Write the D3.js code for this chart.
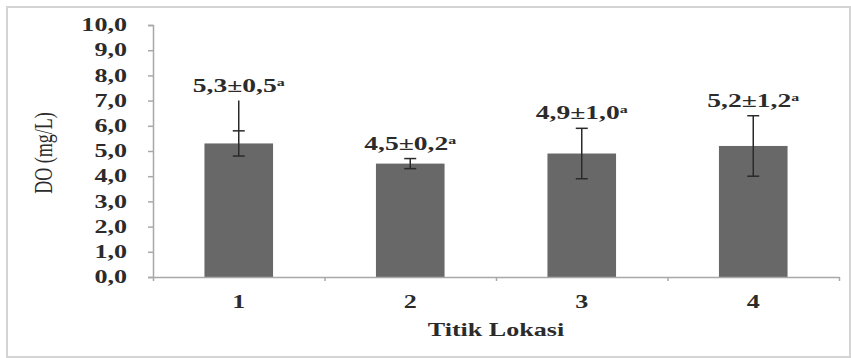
<!DOCTYPE html>
<html>
<head>
<meta charset="utf-8">
<script src="https://cdn.jsdelivr.net/npm/d3@7"></script>
<style>
  body { margin: 0; background: #fff; }
  svg text { font-family: 'Liberation Serif', 'Times New Roman', serif; fill: #2b2b2b; }
</style>
</head>
<body>
<div id="chart"></div>
<script>
// data
const locations = ['1', '2', '3', '4'];
const doMeans = [5.3, 4.5, 4.9, 5.2];
const doSd = [0.5, 0.2, 1.0, 1.2];
// bar 1 has a whisker that runs on above its cap, up to 7,0
const whiskerTop = [7.0, null, null, null];
const labelSuffix = ['a', 'a', 'a', 'a'];
const yTicks = [0, 1, 2, 3, 4, 5, 6, 7, 8, 9, 10];

const W = 851, H = 358;
const margin = { top: 25, right: 12, bottom: 81, left: 153 };
const plotW = W - margin.left - margin.right;
const plotH = H - margin.top - margin.bottom;
const stretch = 1.45; // text in the picture is squashed wide

const comma = (v) => d3.format('.1f')(v).replace('.', ',');

const svg = d3.select('#chart')
  .append('svg')
  .attr('width', W)
  .attr('height', H);

// chart frame
svg.append('rect')
  .attr('x', 7).attr('y', 7)
  .attr('width', W - 8).attr('height', H - 8)
  .attr('fill', 'none')
  .attr('stroke', '#d4d4d4')
  .attr('stroke-width', 2);

const g = svg.append('g')
  .attr('transform', `translate(${margin.left},${margin.top})`);

const x = d3.scaleBand()
  .domain(locations)
  .range([0, plotW])
  .paddingInner(0.6)
  .paddingOuter(0.3);

const y = d3.scaleLinear()
  .domain([0, 10])
  .range([plotH, 0]);

// y axis
const yAxis = g.append('g')
  .call(d3.axisLeft(y).tickValues(yTicks).tickFormat(comma).tickSize(5));
yAxis.select('.domain').attr('stroke', '#a8a8a8').attr('stroke-width', 1.5);
yAxis.selectAll('.tick line').attr('stroke', '#a8a8a8').attr('stroke-width', 1.5);
yAxis.selectAll('.tick text')
  .attr('x', 0)
  .attr('transform', `translate(-26,0) scale(${stretch},1)`)
  .style('font-size', '18px')
  .style('font-weight', 'bold')
  .attr('fill', '#333');

// bars
g.selectAll('.bar')
  .data(locations)
  .join('rect')
  .attr('class', 'bar')
  .attr('x', (d) => x(d))
  .attr('y', (d, i) => y(doMeans[i]))
  .attr('width', x.bandwidth())
  .attr('height', (d, i) => plotH - y(doMeans[i]))
  .attr('fill', '#686868');

// x axis: line and ticks on category borders
const xEdge = d3.scaleLinear().domain([0, locations.length]).range([0, plotW]);
const xAxis = g.append('g')
  .attr('transform', `translate(0,${plotH})`)
  .call(d3.axisBottom(xEdge).tickValues(d3.range(locations.length + 1)).tickFormat('').tickSize(4).tickSizeOuter(0));
xAxis.select('.domain').attr('stroke', '#a8a8a8').attr('stroke-width', 1.5);
xAxis.selectAll('.tick line').attr('stroke', '#a8a8a8').attr('stroke-width', 1.5);

// category labels
const xLabels = g.append('g')
  .attr('transform', `translate(0,${plotH})`)
  .call(d3.axisBottom(x).tickSize(0).tickPadding(0));
xLabels.select('.domain').remove();
xLabels.selectAll('.tick text')
  .attr('y', 0).attr('dy', 0)
  .attr('transform', `translate(0,31) scale(${stretch},1)`)
  .style('font-size', '18px')
  .style('font-weight', 'bold')
  .attr('fill', '#333');

// error bars
const cap = 6;
locations.forEach((d, i) => {
  const cx = x(d) + x.bandwidth() / 2;
  const lo = doMeans[i] - doSd[i];
  const hi = doMeans[i] + doSd[i];
  const top = whiskerTop[i] != null ? whiskerTop[i] : hi;
  const eb = g.append('g').attr('stroke', '#2a2a2a').attr('stroke-width', 1.5);
  eb.append('line').attr('x1', cx).attr('x2', cx).attr('y1', y(lo)).attr('y2', y(top));
  eb.append('line').attr('x1', cx - cap).attr('x2', cx + cap).attr('y1', y(hi)).attr('y2', y(hi));
  eb.append('line').attr('x1', cx - cap).attr('x2', cx + cap).attr('y1', y(lo)).attr('y2', y(lo));

  // value label above the whisker
  const t = g.append('text')
    .attr('transform', `translate(${cx},${y(top) - 9}) scale(${stretch},1)`)
    .attr('text-anchor', 'middle')
    .style('font-size', '19px')
    .style('font-weight', 'bold')
    .attr('fill', '#333');
  t.append('tspan').text(`${comma(doMeans[i])}±${comma(doSd[i])}`);
  t.append('tspan')
    .attr('dy', -6)
    .style('font-size', '11px')
    .text(labelSuffix[i]);
});

// axis titles
svg.append('text')
  .attr('transform', `translate(43,153) scale(${stretch},1) rotate(-90)`)
  .attr('text-anchor', 'middle')
  .attr('dy', '0.35em')
  .style('font-size', '18px')
  .text('DO (mg/L)');

svg.append('text')
  .attr('transform', `translate(${margin.left + plotW / 2},336) scale(${stretch},1)`)
  .attr('text-anchor', 'middle')
  .style('font-size', '18px')
  .style('font-weight', 'bold')
  .attr('fill', '#333')
  .text('Titik  Lokasi');
</script>
</body>
</html>
